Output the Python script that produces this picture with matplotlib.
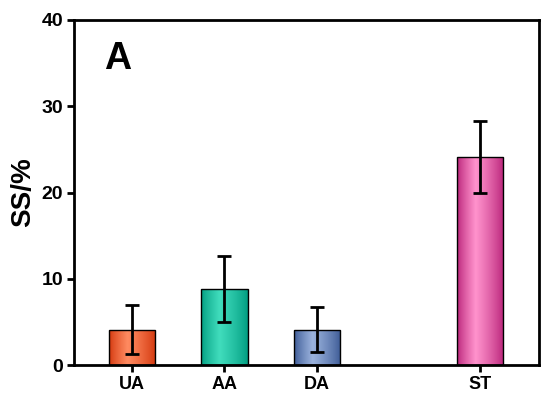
import numpy as np
import matplotlib
matplotlib.use("Agg")
import matplotlib.pyplot as plt
from matplotlib.colors import LinearSegmentedColormap

categories = ["UA", "AA", "DA", "ST"]
values = [4.1, 8.8, 4.1, 24.1]
errors = [2.8, 3.8, 2.6, 4.2]
yticks = [0, 10, 20, 30, 40]

colors = [
    ("#d2360c", "#ff8a60"),
    ("#009c80", "#40dcbc"),
    ("#3a5894", "#9ab2dc"),
    ("#b82278", "#ff92cc"),
]
x_pos = [0, 1, 2, 3.76]
width = 0.5

plt.rcParams['font.family'] = ['Liberation Sans', 'DejaVu Sans']
fig = plt.figure(figsize=(5.5, 3.98), dpi=100)
ax = fig.add_axes([74/550, 1 - 365/398, (539-74)/550, (365-20)/398])

prof = np.concatenate([np.linspace(0, 1, 40), np.linspace(1, 0, 60)])
prof = prof ** 0.8
grad = np.tile(prof, (2, 1))
for x, v, e, (c0, c1) in zip(x_pos, values, errors, colors):
    cmap = LinearSegmentedColormap.from_list("g", [c0, c1])
    ext = (x - width/2, x + width/2, 0, v)
    im = ax.imshow(grad, cmap=cmap, aspect='auto', extent=ext, origin='lower', zorder=2, interpolation='bilinear')
    rect = plt.Rectangle((x - width/2, 0), width, v, facecolor='none', edgecolor='black', lw=1.0, zorder=3)
    ax.add_patch(rect)
    im.set_clip_path(rect)
    ax.errorbar(x, v, yerr=e, fmt='none', ecolor='black', elinewidth=2, capsize=5, capthick=2, zorder=4)

ax.set_xlim(-0.627, 4.40)
ax.set_ylim(0, 40)
ax.set_xticks(x_pos)
ax.set_xticklabels(categories, fontsize=13, fontweight='bold')
ax.set_yticks(yticks)
ax.set_yticklabels([str(t) for t in yticks], fontsize=14, fontweight='bold')
ax.set_ylabel("SS/%", fontsize=20, fontweight='bold', labelpad=4)
for s in ax.spines.values():
    s.set_linewidth(2)
ax.tick_params(axis='both', width=2, length=5, pad=3)
ax.text(0.064, 0.887, "A", transform=ax.transAxes, fontsize=27, fontweight='bold', va='center', ha='left')

fig.savefig("out.png", dpi=100)
